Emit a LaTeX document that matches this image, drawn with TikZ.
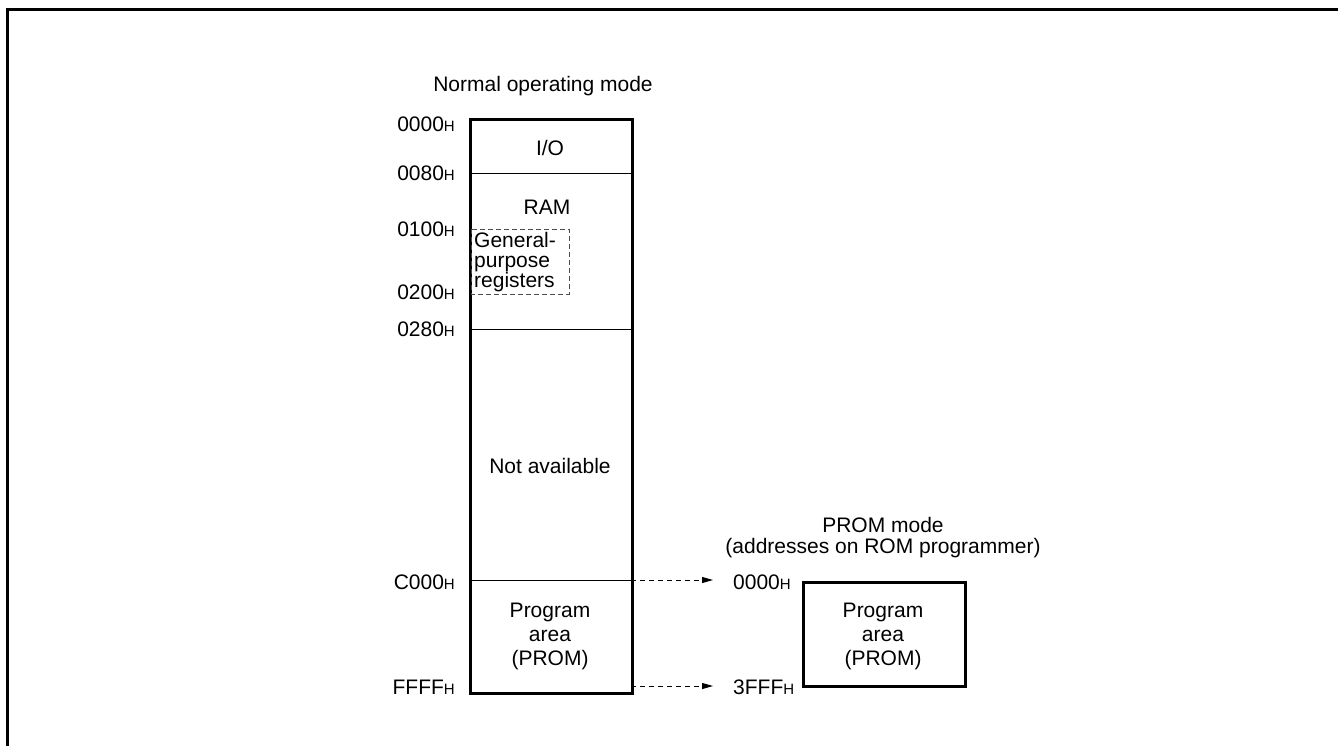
\documentclass[tikz,border=0pt]{standalone}
\usepackage{fontspec}
\setmainfont{Liberation Sans}
\usetikzlibrary{arrows.meta}
\newcommand\hsub{{\fontsize{15}{15}\selectfont H}}
\begin{document}
\begin{tikzpicture}[x=1pt,y=-1pt,
  lbl/.style={font=\fontsize{21}{24}\selectfont, inner sep=0pt, align=center},
  addr/.style={lbl, anchor=east},
  raddr/.style={lbl, anchor=west},
  memframe/.style={draw, line width=2.5pt},
  sepline/.style={line width=1pt},
  dashbox/.style={draw=black!70, line width=1pt, dash pattern=on 5pt off 3pt},
  conn/.style={line width=1pt, dash pattern=on 5pt off 4pt, -{Triangle[length=11pt,width=6pt]}, shorten >=20pt}
]
\useasboundingbox (0,0) rectangle (1338,745);
\draw[line width=3pt] (7,760) -- (7,9) -- (1350,9);

% normal operating mode
\node[lbl] (title1) at (543,86) {Normal operating mode};
\node[memframe, minimum width=162pt, minimum height=574pt, anchor=north west, inner sep=0pt] (mem) at (469,118) {};
\draw[sepline] (469,173) -- (631,173);
\draw[sepline] (469,329) -- (631,329);
\draw[sepline] (469,580) -- (631,580);
\node[lbl] (io) at (550,148) {I/O};
\node[lbl] (ram) at (547,207) {RAM};
\draw[dashbox] (471,229) rectangle (569,294);
\node[lbl, align=left, anchor=west, font=\fontsize{21}{20}\selectfont] (gpr) at (474,262) {General-\\purpose\\registers};
\node[lbl] (na) at (550,466) {Not available};
\node[lbl] (prog1) at (550,636) {Program\\area\\(PROM)};

\node[addr] (a0000) at (455,124) {0000\hsub};
\node[addr] (a0080) at (455,173) {0080\hsub};
\node[addr] (a0100) at (455,229) {0100\hsub};
\node[addr] (a0200) at (455,292) {0200\hsub};
\node[addr] (a0280) at (455,329) {0280\hsub};
\node[addr] (aC000) at (455,582) {C000\hsub};
\node[addr] (aFFFF) at (455,687) {FFFF\hsub};

% PROM mode
\node[lbl, font=\fontsize{21}{21}\selectfont] (title2) at (883,538) {PROM mode\\(addresses on ROM programmer)};
\node[memframe, minimum width=162pt, minimum height=104pt, anchor=north west, inner sep=0pt] (prom) at (802,581) {};
\node[lbl] (prog2) at (883,636) {Program\\area\\(PROM)};
\node[raddr] (b0000) at (733,582) {0000\hsub};
\node[raddr] (b3FFF) at (733,687) {3FFF\hsub};

\coordinate (c1) at (631,580);
\coordinate (c2) at (631,686);
\draw[conn] (c1) -- (b0000.west |- c1);
\draw[conn] (c2) -- (b3FFF.west |- c2);
\end{tikzpicture}
\end{document}
